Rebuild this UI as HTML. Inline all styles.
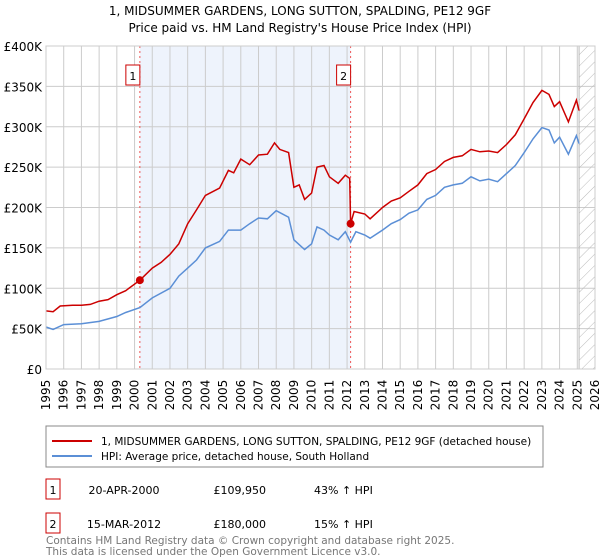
<!DOCTYPE html>
<html><head><meta charset="utf-8"><style>
body{margin:0;background:#fff;font-family:"DejaVu Sans","Liberation Sans",sans-serif;}
#wrap{position:relative;width:600px;height:560px;overflow:hidden;}
</style></head><body>
<div id="wrap">
<svg id="chart" width="600" height="560" xmlns="http://www.w3.org/2000/svg"></svg>
</div>
<script>
const years=[1995,1996,1997,1998,1999,2000,2001,2002,2003,2004,2005,2006,2007,2008,2009,2010,2011,2012,2013,2014,2015,2016,2017,2018,2019,2020,2021,2022,2023,2024,2025,2026];
const yTicks=[0,50,100,150,200,250,300,350,400];
const yTickLabels=["£0","£50K","£100K","£150K","£200K","£250K","£300K","£350K","£400K"];
const redT=[1995,1995.4,1995.8,1996.5,1997,1997.5,1998,1998.5,1999,1999.5,2000.3,2001,2001.5,2002,2002.5,2003,2003.5,2004,2004.8,2005.3,2005.6,2006,2006.5,2007,2007.5,2007.9,2008.2,2008.7,2009,2009.3,2009.6,2010,2010.3,2010.7,2011,2011.5,2011.9,2012.15,2012.2,2012.4,2013,2013.3,2014,2014.5,2015,2015.5,2016,2016.5,2017,2017.5,2018,2018.5,2019,2019.5,2020,2020.5,2021,2021.5,2022,2022.5,2023,2023.4,2023.7,2024,2024.5,2024.95,2025.1];
const redV=[72,71,78,79,79,80,84,86,92,97,110,125,132,142,155,180,197,215,224,246,243,260,253,265,266,280,272,268,225,228,210,218,250,252,238,230,240,236,180,195,192,186,200,208,212,220,228,242,247,257,262,264,272,269,270,268,278,290,310,330,345,340,325,331,306,333,320];
const hpiT=[1995,1995.4,1996,1997,1998,1999,1999.5,2000.3,2001,2002,2002.5,2003,2003.5,2004,2004.8,2005.3,2006,2006.5,2007,2007.5,2008,2008.7,2009,2009.6,2010,2010.3,2010.7,2011,2011.5,2011.9,2012.2,2012.5,2013,2013.3,2014,2014.5,2015,2015.5,2016,2016.5,2017,2017.5,2018,2018.5,2019,2019.5,2020,2020.5,2021,2021.5,2022,2022.5,2023,2023.4,2023.7,2024,2024.5,2024.95,2025.1];
const hpiV=[52,49,55,56,59,65,70,76,88,100,115,125,135,150,158,172,172,180,187,186,196,188,160,148,155,176,172,166,160,170,157,170,166,162,172,180,185,193,197,210,215,225,228,230,238,233,235,232,242,252,268,285,299,296,280,287,266,289,279];
const sales=[{t:2000.3,v:109.95,label:"1"},{t:2012.2,v:180,label:"2"}];
const L=46,R=595,T=46,B=369;
const X=y=>L+(y-1995)*(R-L)/31;
const Y=v=>B-v*(B-T)/400;
const NS="http://www.w3.org/2000/svg";
const svg=document.getElementById('chart');
function mk(tag,attrs,name,parent){const e=document.createElementNS(NS,tag);for(const k in attrs)e.setAttribute(k,attrs[k]);


(parent||svg).appendChild(e);return e;}
function txt(x,y,s,attrs,name){const e=mk('text',Object.assign({x:x,y:y,'font-size':12,fill:'#000','font-family':'DejaVu Sans, Liberation Sans, sans-serif'},attrs||{}),name);e.textContent=s;return e;}
txt(300,15,"1, MIDSUMMER GARDENS, LONG SUTTON, SPALDING, PE12 9GF",{'text-anchor':'middle','font-size':12},'chart-title');
txt(300,32,"Price paid vs. HM Land Registry's House Price Index (HPI)",{'text-anchor':'middle','font-size':12},'chart-subtitle');
const defs=mk('defs',{},'defs');
const pat=mk('pattern',{id:'hatch',width:8,height:8,patternUnits:'userSpaceOnUse',patternTransform:'rotate(45)'},'hatch-pattern',defs);
mk('line',{x1:0,y1:0,x2:0,y2:8,stroke:'#bbb','stroke-width':1},'hatch-line',pat);
mk('rect',{x:X(sales[0].t),y:T,width:X(sales[1].t)-X(sales[0].t),height:B-T,fill:'#eef3fc'},'ownership-period-shade');
years.forEach(y=>{mk('line',{x1:X(y),y1:T,x2:X(y),y2:B,stroke:'#ccc','stroke-width':1},'x-gridline');
 txt(X(y)+4,B+26,String(y),{'text-anchor':'middle',transform:`rotate(-90 ${X(y)+4} ${B+26})`,'font-size':12},'x-tick-label');});
yTicks.forEach((v,i)=>{mk('line',{x1:L,y1:Y(v),x2:R,y2:Y(v),stroke:'#ccc','stroke-width':1},'y-gridline');
 txt(L-4,Y(v)+5,yTickLabels[i],{'text-anchor':'end','font-size':12},'y-tick-label');});
mk('rect',{x:X(2025.1),y:T,width:R-X(2025.1),height:B-T,fill:'url(#hatch)',stroke:'#aaa','stroke-width':0.8},'forecast-hatch');
sales.forEach(s=>{mk('line',{x1:X(s.t),y1:T,x2:X(s.t),y2:B,stroke:'#e55','stroke-width':1,'stroke-dasharray':'2,3'},'sale-marker-line');
 mk('rect',{x:X(s.t)-14,y:65,width:14,height:20,fill:'#fff',stroke:'#c00','stroke-width':1},'sale-label-box');
 txt(X(s.t)-7,80,s.label,{'text-anchor':'middle','font-size':11},'sale-label');});
const pts=(ts,vs)=>ts.map((t,i)=>X(t).toFixed(1)+','+Y(vs[i]).toFixed(1)).join(' ');
mk('polyline',{points:pts(hpiT,hpiV),fill:'none',stroke:'#5b8fd6','stroke-width':1.5},'hpi-line');
mk('polyline',{points:pts(redT,redV),fill:'none',stroke:'#cc0000','stroke-width':1.5},'price-paid-line');
sales.forEach(s=>mk('circle',{cx:X(s.t),cy:Y(s.v),r:4,fill:'#cc0000'},'sale-point'));
mk('rect',{x:L,y:T,width:R-L,height:B-T,fill:'none',stroke:'#ccc','stroke-width':1},'plot-border');
mk('rect',{x:46,y:426,width:497,height:41,fill:'#fff',stroke:'#888','stroke-width':1},'legend-box');
mk('line',{x1:52,y1:441,x2:92,y2:441,stroke:'#cc0000','stroke-width':2},'legend-swatch-price');
txt(101,445,"1, MIDSUMMER GARDENS, LONG SUTTON, SPALDING, PE12 9GF (detached house)",{'font-size':10.5},'legend-entry-price');
mk('line',{x1:52,y1:456,x2:92,y2:456,stroke:'#5b8fd6','stroke-width':2},'legend-swatch-hpi');
txt(101,460,"HPI: Average price, detached house, South Holland",{'font-size':10.5},'legend-entry-hpi');
const rows=[["1","20-APR-2000","£109,950","43% ↑ HPI",492],["2","15-MAR-2012","£180,000","15% ↑ HPI",526]];
rows.forEach(r=>{mk('rect',{x:46,y:r[4]-13,width:14,height:20,fill:'#fff',stroke:'#c00','stroke-width':1},'table-sale-box');
 txt(53,r[4]+2,r[0],{'text-anchor':'middle','font-size':11},'table-sale-number');
 txt(124,r[4]+2,r[1],{'text-anchor':'middle','font-size':11},'table-sale-date');
 txt(266,r[4]+2,r[2],{'text-anchor':'end','font-size':11},'table-sale-price');
 txt(314,r[4]+2,r[3],{'font-size':11},'table-sale-hpi');});
txt(46,544,"Contains HM Land Registry data © Crown copyright and database right 2025.",{'font-size':10.5,fill:'#777'},'footer-copyright');
txt(46,555,"This data is licensed under the Open Government Licence v3.0.",{'font-size':10.5,fill:'#777'},'footer-licence');
</script>
</body></html>
